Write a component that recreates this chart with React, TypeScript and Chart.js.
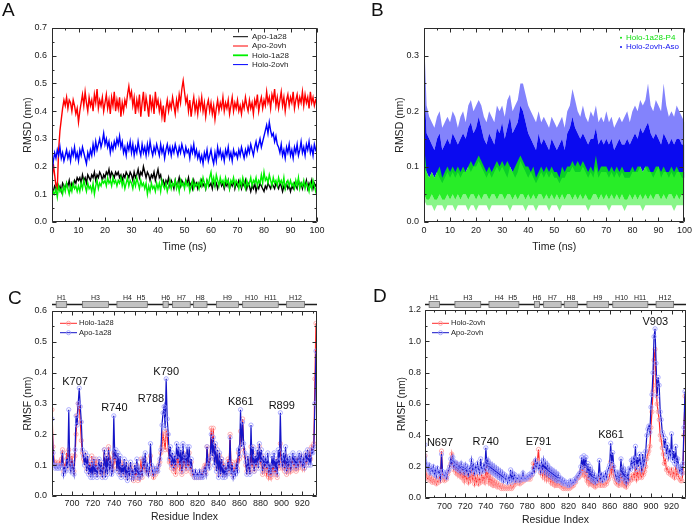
import React, { useEffect, useRef } from "react";
import { Chart, registerables } from "chart.js";
Chart.register(...registerables);

const FONT = "'Liberation Sans', Arial, Helvetica, sans-serif";

// ---------------- Panel A : RMSD of protein (every 0.5 ns) ----------------
const A_APO_1A28 = [
  0.12,0.11,0.13,0.12,0.14,0.12,0.13,0.11,0.14,0.13, 0.12,0.14,0.13,0.15,0.12,0.14,0.13,0.15,0.14,0.16,
  0.15,0.16,0.14,0.17,0.15,0.16,0.14,0.17,0.16,0.15, 0.17,0.16,0.18,0.15,0.17,0.16,0.18,0.17,0.15,0.17,
  0.16,0.18,0.17,0.19,0.16,0.18,0.17,0.16,0.18,0.17, 0.18,0.16,0.17,0.15,0.17,0.16,0.18,0.17,0.16,0.18,
  0.17,0.15,0.18,0.16,0.17,0.19,0.16,0.18,0.17,0.20, 0.18,0.16,0.18,0.17,0.15,0.17,0.16,0.18,0.15,0.17,
  0.19,0.16,0.17,0.14,0.15,0.13,0.15,0.14,0.16,0.13, 0.15,0.14,0.12,0.15,0.13,0.14,0.16,0.13,0.15,0.14,
  0.13,0.15,0.14,0.16,0.13,0.14,0.12,0.15,0.13,0.14, 0.12,0.14,0.13,0.15,0.13,0.14,0.12,0.15,0.14,0.13,
  0.14,0.12,0.15,0.13,0.14,0.12,0.14,0.15,0.13,0.14, 0.12,0.14,0.13,0.15,0.12,0.14,0.13,0.15,0.12,0.14,
  0.13,0.15,0.14,0.12,0.14,0.13,0.15,0.12,0.14,0.13, 0.11,0.13,0.12,0.14,0.11,0.13,0.12,0.14,0.13,0.12,
  0.11,0.13,0.12,0.14,0.13,0.12,0.14,0.13,0.12,0.14, 0.13,0.12,0.14,0.13,0.11,0.13,0.12,0.14,0.12,0.13,
  0.11,0.13,0.12,0.14,0.13,0.12,0.15,0.13,0.14,0.12, 0.14,0.13,0.15,0.12,0.14,0.13,0.15,0.12,0.14,0.13,
  0.14,
];
const A_APO_2OVH = [
  0.15,0.21,0.17,0.13,0.12,0.26,0.33,0.37,0.41,0.44, 0.42,0.45,0.41,0.44,0.43,0.40,0.44,0.42,0.39,0.41,
  0.36,0.40,0.43,0.46,0.42,0.47,0.43,0.40,0.45,0.42, 0.44,0.40,0.46,0.43,0.48,0.41,0.44,0.42,0.45,0.40,
  0.43,0.46,0.41,0.44,0.39,0.45,0.42,0.47,0.40,0.44, 0.41,0.45,0.38,0.43,0.40,0.44,0.42,0.46,0.49,0.45,
  0.47,0.42,0.45,0.39,0.44,0.41,0.46,0.38,0.43,0.47, 0.40,0.45,0.42,0.38,0.46,0.41,0.44,0.39,0.47,0.42,
  0.44,0.40,0.43,0.38,0.42,0.36,0.41,0.44,0.40,0.43, 0.41,0.45,0.42,0.39,0.44,0.41,0.46,0.43,0.48,0.51,
  0.47,0.43,0.45,0.40,0.44,0.38,0.42,0.45,0.40,0.43, 0.39,0.44,0.41,0.45,0.40,0.43,0.38,0.42,0.44,0.40,
  0.43,0.39,0.42,0.37,0.41,0.44,0.40,0.43,0.41,0.45, 0.40,0.43,0.41,0.44,0.39,0.42,0.45,0.40,0.43,0.41,
  0.44,0.40,0.42,0.39,0.43,0.41,0.45,0.42,0.40,0.44, 0.41,0.43,0.39,0.44,0.42,0.46,0.40,0.43,0.45,0.41,
  0.44,0.42,0.47,0.43,0.45,0.41,0.46,0.44,0.48,0.42, 0.45,0.41,0.44,0.47,0.42,0.45,0.40,0.44,0.46,0.42,
  0.45,0.43,0.47,0.41,0.44,0.46,0.42,0.45,0.43,0.47, 0.42,0.46,0.43,0.45,0.41,0.47,0.43,0.45,0.42,0.44,
  0.43,
];
const A_HOLO_1A28 = [
  0.09,0.11,0.10,0.12,0.09,0.13,0.11,0.12,0.10,0.13, 0.11,0.14,0.12,0.10,0.13,0.11,0.14,0.12,0.13,0.11,
  0.13,0.11,0.14,0.12,0.15,0.13,0.11,0.14,0.12,0.13, 0.11,0.14,0.10,0.13,0.15,0.12,0.14,0.13,0.15,0.14,
  0.15,0.13,0.16,0.14,0.15,0.13,0.16,0.14,0.15,0.13, 0.15,0.14,0.16,0.13,0.15,0.12,0.14,0.16,0.13,0.15,
  0.14,0.12,0.15,0.13,0.16,0.14,0.12,0.15,0.13,0.14, 0.12,0.14,0.10,0.13,0.11,0.14,0.12,0.13,0.11,0.14,
  0.12,0.14,0.11,0.15,0.13,0.12,0.14,0.11,0.13,0.15, 0.12,0.14,0.13,0.15,0.12,0.14,0.11,0.15,0.13,0.14,
  0.12,0.15,0.13,0.14,0.11,0.13,0.15,0.12,0.14,0.13, 0.14,0.12,0.15,0.13,0.16,0.14,0.12,0.15,0.13,0.16,
  0.18,0.14,0.16,0.13,0.17,0.15,0.13,0.16,0.14,0.15, 0.13,0.16,0.14,0.15,0.12,0.15,0.14,0.16,0.13,0.15,
  0.14,0.12,0.15,0.13,0.16,0.14,0.12,0.15,0.13,0.14, 0.16,0.13,0.15,0.14,0.16,0.13,0.15,0.14,0.17,0.14,
  0.18,0.15,0.16,0.14,0.17,0.15,0.13,0.16,0.14,0.15, 0.13,0.16,0.14,0.15,0.13,0.16,0.12,0.14,0.15,0.13,
  0.15,0.13,0.14,0.12,0.15,0.13,0.16,0.12,0.14,0.13, 0.15,0.12,0.14,0.13,0.11,0.14,0.12,0.15,0.13,0.11,
  0.13,
];
const A_HOLO_2OVH = [
  0.17,0.22,0.25,0.23,0.26,0.24,0.27,0.23,0.25,0.22, 0.24,0.26,0.23,0.25,0.22,0.26,0.24,0.27,0.23,0.25,
  0.22,0.26,0.24,0.27,0.25,0.23,0.21,0.25,0.23,0.26, 0.24,0.28,0.25,0.29,0.26,0.28,0.30,0.27,0.29,0.32,
  0.28,0.30,0.27,0.29,0.25,0.28,0.26,0.29,0.27,0.30, 0.28,0.31,0.27,0.29,0.25,0.27,0.24,0.28,0.26,0.29,
  0.25,0.28,0.24,0.27,0.25,0.29,0.26,0.24,0.28,0.25, 0.27,0.24,0.28,0.25,0.29,0.26,0.24,0.27,0.25,0.28,
  0.26,0.24,0.28,0.25,0.27,0.23,0.26,0.28,0.25,0.27, 0.24,0.27,0.25,0.28,0.26,0.24,0.27,0.25,0.28,0.26,
  0.24,0.27,0.25,0.26,0.23,0.27,0.25,0.28,0.24,0.26, 0.23,0.25,0.22,0.24,0.21,0.25,0.23,0.26,0.22,0.24,
  0.26,0.23,0.21,0.25,0.22,0.27,0.24,0.26,0.23,0.25, 0.22,0.26,0.24,0.27,0.23,0.25,0.22,0.26,0.24,0.25,
  0.23,0.26,0.24,0.27,0.25,0.23,0.26,0.24,0.27,0.25, 0.28,0.26,0.24,0.27,0.29,0.26,0.28,0.30,0.27,0.29,
  0.31,0.33,0.35,0.32,0.36,0.33,0.31,0.32,0.29,0.31, 0.28,0.27,0.25,0.28,0.24,0.26,0.23,0.27,0.25,0.28,
  0.24,0.26,0.23,0.27,0.25,0.28,0.24,0.26,0.29,0.25, 0.27,0.24,0.28,0.26,0.29,0.25,0.27,0.24,0.28,0.26,
  0.27,
];

// ---------------- Panel B : ligand RMSD clouds (envelopes, every 1 ns) ----------------
const B_BLUE_MAX = [
  0.34,0.21,0.19,0.18,0.17,0.19,0.20,0.17,0.18,0.19, 0.18,0.20,0.19,0.17,0.19,0.20,0.18,0.21,0.22,0.20,
  0.21,0.22,0.21,0.19,0.18,0.20,0.19,0.18,0.21,0.20, 0.21,0.19,0.22,0.23,0.20,0.21,0.22,0.25,0.25,0.23,
  0.21,0.20,0.19,0.18,0.20,0.18,0.19,0.18,0.17,0.19, 0.18,0.17,0.18,0.19,0.17,0.20,0.21,0.24,0.22,0.20,
  0.19,0.21,0.19,0.18,0.20,0.19,0.21,0.18,0.19,0.18, 0.20,0.18,0.19,0.17,0.18,0.19,0.18,0.19,0.20,0.18,
  0.20,0.21,0.20,0.22,0.21,0.22,0.25,0.21,0.20,0.22, 0.21,0.20,0.25,0.21,0.19,0.20,0.19,0.21,0.20,0.19,
  0.18,
];
const B_BLUE_TOP = [
  0.26,0.16,0.15,0.14,0.13,0.15,0.16,0.13,0.14,0.15, 0.14,0.16,0.15,0.14,0.15,0.16,0.15,0.17,0.18,0.16,
  0.17,0.19,0.17,0.15,0.14,0.16,0.15,0.14,0.17,0.16, 0.18,0.15,0.17,0.19,0.16,0.17,0.18,0.21,0.20,0.18,
  0.16,0.15,0.14,0.13,0.16,0.14,0.15,0.14,0.13,0.15, 0.14,0.13,0.14,0.15,0.13,0.16,0.17,0.19,0.17,0.16,
  0.15,0.16,0.15,0.14,0.15,0.15,0.17,0.14,0.15,0.14, 0.15,0.14,0.15,0.13,0.14,0.15,0.14,0.14,0.15,0.14,
  0.15,0.16,0.15,0.17,0.16,0.17,0.18,0.16,0.15,0.16, 0.15,0.14,0.16,0.15,0.14,0.15,0.14,0.15,0.15,0.14,
  0.14,
];
const B_BLUE_LOW = [
  0.10,0.09,0.08,0.09,0.08,0.09,0.08,0.07,0.08,0.09, 0.08,0.09,0.08,0.09,0.08,0.09,0.09,0.10,0.09,0.10,
  0.10,0.11,0.10,0.09,0.08,0.09,0.08,0.09,0.10,0.09, 0.10,0.09,0.08,0.10,0.09,0.08,0.09,0.11,0.10,0.09,
  0.08,0.09,0.08,0.07,0.08,0.09,0.08,0.09,0.08,0.09, 0.08,0.08,0.07,0.08,0.08,0.09,0.09,0.10,0.09,0.09,
  0.09,0.10,0.09,0.08,0.09,0.08,0.10,0.08,0.09,0.09, 0.09,0.08,0.09,0.08,0.09,0.08,0.09,0.08,0.08,0.08,
  0.09,0.09,0.09,0.10,0.09,0.10,0.09,0.09,0.08,0.09, 0.10,0.08,0.09,0.09,0.08,0.09,0.08,0.09,0.09,0.08,
  0.08,
];
const B_GREEN_TOP = [
  0.14,0.09,0.08,0.09,0.08,0.09,0.10,0.08,0.09,0.10, 0.09,0.10,0.09,0.10,0.09,0.10,0.09,0.10,0.11,0.10,
  0.11,0.12,0.11,0.10,0.09,0.10,0.09,0.10,0.11,0.10, 0.11,0.10,0.11,0.10,0.09,0.10,0.11,0.12,0.11,0.10,
  0.10,0.09,0.10,0.08,0.09,0.10,0.09,0.10,0.09,0.10, 0.09,0.09,0.08,0.10,0.09,0.10,0.10,0.11,0.10,0.11,
  0.10,0.11,0.10,0.09,0.10,0.09,0.12,0.09,0.10,0.10, 0.10,0.09,0.10,0.09,0.10,0.09,0.10,0.09,0.09,0.09,
  0.10,0.09,0.10,0.10,0.09,0.10,0.10,0.09,0.09,0.10, 0.10,0.09,0.10,0.09,0.09,0.10,0.09,0.10,0.09,0.09,
  0.09,
];
const B_GREEN_LOW = [
  0.05,0.04,0.04,0.05,0.04,0.04,0.05,0.04,0.04,0.05, 0.04,0.05,0.04,0.05,0.04,0.05,0.05,0.04,0.05,0.05,
  0.04,0.05,0.04,0.05,0.05,0.04,0.05,0.05,0.04,0.05, 0.05,0.04,0.05,0.05,0.04,0.05,0.04,0.05,0.05,0.04,
  0.05,0.04,0.05,0.04,0.05,0.05,0.04,0.05,0.04,0.05, 0.04,0.05,0.04,0.05,0.04,0.05,0.05,0.04,0.05,0.04,
  0.05,0.04,0.05,0.04,0.04,0.05,0.05,0.04,0.05,0.04, 0.05,0.04,0.05,0.04,0.05,0.04,0.05,0.04,0.04,0.05,
  0.04,0.05,0.04,0.05,0.04,0.05,0.04,0.05,0.04,0.05, 0.05,0.04,0.05,0.04,0.05,0.05,0.04,0.05,0.04,0.05,
  0.04,
];
const B_GREEN_MIN = [
  0.04,0.03,0.03,0.03,0.02,0.03,0.03,0.03,0.02,0.03, 0.03,0.03,0.02,0.03,0.03,0.03,0.03,0.02,0.03,0.03,
  0.02,0.03,0.03,0.03,0.03,0.02,0.03,0.03,0.03,0.03, 0.03,0.03,0.03,0.02,0.03,0.03,0.03,0.03,0.03,0.02,
  0.03,0.03,0.03,0.02,0.03,0.03,0.03,0.03,0.02,0.03, 0.03,0.03,0.02,0.03,0.03,0.03,0.03,0.03,0.03,0.03,
  0.03,0.03,0.03,0.02,0.03,0.03,0.03,0.03,0.03,0.03, 0.03,0.02,0.03,0.03,0.03,0.03,0.03,0.02,0.03,0.03,
  0.03,0.03,0.03,0.03,0.02,0.03,0.03,0.03,0.03,0.03, 0.03,0.03,0.03,0.03,0.03,0.03,0.02,0.03,0.03,0.03,
  0.03,
];

// ---------------- Panel C / D : RMSF per residue (from residue 681) ----------------
const FIRST_RESIDUE = 681;
const C_HOLO_1A28 = [
  0.28,0.16,0.11,0.10,0.11,0.10,0.10,0.11,0.10,0.12, 0.15,0.08,0.10,0.09,0.14,0.10,0.15,0.12,0.09,0.13,
  0.10,0.08,0.13,0.20,0.26,0.30,0.29,0.24,0.18,0.14, 0.12,0.11,0.13,0.09,0.12,0.08,0.11,0.07,0.13,0.08,
  0.11,0.08,0.12,0.07,0.10,0.11,0.08,0.10,0.07,0.10, 0.15,0.07,0.13,0.09,0.16,0.10,0.12,0.08,0.09,0.14,
  0.11,0.13,0.09,0.12,0.08,0.11,0.07,0.10,0.08,0.11, 0.07,0.10,0.06,0.09,0.07,0.10,0.06,0.08,0.05,0.09,
  0.06,0.10,0.05,0.08,0.06,0.12,0.06,0.11,0.09,0.12, 0.08,0.09,0.07,0.08,0.13,0.09,0.07,0.06,0.08,0.07,
  0.08,0.09,0.10,0.11,0.14,0.16,0.20,0.18,0.15,0.21, 0.20,0.15,0.11,0.13,0.09,0.12,0.08,0.11,0.07,0.13,
  0.10,0.13,0.08,0.12,0.07,0.14,0.10,0.12,0.08,0.13, 0.09,0.14,0.08,0.11,0.07,0.08,0.06,0.07,0.06,0.07,
  0.06,0.07,0.06,0.08,0.07,0.09,0.10,0.08,0.16,0.12, 0.10,0.13,0.22,0.15,0.22,0.12,0.16,0.09,0.14,0.07,
  0.13,0.08,0.12,0.07,0.10,0.07,0.09,0.08,0.12,0.09, 0.20,0.08,0.11,0.07,0.09,0.08,0.11,0.09,0.14,0.12,
  0.21,0.18,0.25,0.15,0.13,0.10,0.08,0.12,0.09,0.08, 0.16,0.09,0.14,0.08,0.12,0.09,0.13,0.10,0.16,0.10,
  0.13,0.07,0.11,0.08,0.10,0.07,0.09,0.06,0.08,0.06, 0.10,0.07,0.11,0.07,0.10,0.06,0.12,0.09,0.17,0.10,
  0.09,0.11,0.08,0.13,0.07,0.10,0.08,0.11,0.08,0.10, 0.12,0.09,0.12,0.08,0.11,0.09,0.12,0.10,0.13,0.09,
  0.11,0.09,0.13,0.10,0.14,0.11,0.15,0.12,0.16,0.15, 0.17,0.38,0.56,
];
const C_APO_1A28 = [
  0.25,0.14,0.10,0.09,0.10,0.09,0.09,0.10,0.09,0.10, 0.14,0.07,0.09,0.08,0.12,0.09,0.28,0.10,0.08,0.11,
  0.09,0.07,0.15,0.26,0.23,0.30,0.35,0.29,0.24,0.15, 0.13,0.10,0.14,0.08,0.13,0.07,0.10,0.06,0.11,0.06,
  0.12,0.07,0.10,0.06,0.09,0.12,0.07,0.11,0.06,0.09, 0.15,0.06,0.13,0.07,0.15,0.09,0.11,0.07,0.08,0.26,
  0.12,0.15,0.08,0.14,0.07,0.13,0.06,0.10,0.07,0.12, 0.06,0.11,0.05,0.09,0.07,0.11,0.06,0.08,0.06,0.10,
  0.07,0.12,0.06,0.09,0.06,0.08,0.07,0.12,0.10,0.14, 0.08,0.10,0.07,0.09,0.17,0.10,0.08,0.07,0.09,0.08,
  0.09,0.08,0.10,0.12,0.15,0.23,0.27,0.29,0.22,0.38, 0.25,0.20,0.12,0.16,0.10,0.14,0.09,0.13,0.10,0.17,
  0.12,0.16,0.10,0.15,0.08,0.17,0.11,0.13,0.09,0.16, 0.10,0.16,0.09,0.12,0.08,0.07,0.06,0.08,0.06,0.07,
  0.06,0.08,0.06,0.07,0.06,0.08,0.09,0.07,0.16,0.10, 0.09,0.12,0.20,0.13,0.19,0.10,0.17,0.08,0.15,0.06,
  0.14,0.07,0.12,0.06,0.10,0.06,0.09,0.07,0.11,0.08, 0.19,0.07,0.10,0.06,0.08,0.07,0.10,0.08,0.15,0.13,
  0.28,0.16,0.24,0.17,0.14,0.11,0.07,0.13,0.09,0.07, 0.23,0.10,0.16,0.08,0.13,0.10,0.15,0.09,0.17,0.11,
  0.15,0.08,0.13,0.10,0.12,0.09,0.14,0.08,0.10,0.07, 0.13,0.09,0.14,0.08,0.12,0.07,0.15,0.10,0.27,0.12,
  0.10,0.14,0.09,0.16,0.08,0.12,0.10,0.13,0.09,0.11, 0.14,0.10,0.13,0.09,0.12,0.10,0.14,0.11,0.13,0.10,
  0.12,0.09,0.14,0.11,0.15,0.10,0.13,0.10,0.15,0.14, 0.16,0.30,0.47,
];
const D_HOLO_2OVH = [
  0.27,0.15,0.13,0.12,0.14,0.11,0.13,0.10,0.12,0.10, 0.12,0.09,0.11,0.10,0.13,0.11,0.30,0.13,0.12,0.11,
  0.13,0.12,0.15,0.17,0.20,0.22,0.28,0.22,0.18,0.20, 0.16,0.21,0.15,0.19,0.14,0.18,0.13,0.17,0.11,0.16,
  0.12,0.15,0.10,0.14,0.11,0.17,0.12,0.15,0.09,0.13, 0.10,0.14,0.09,0.12,0.10,0.15,0.11,0.13,0.10,0.20,
  0.13,0.16,0.10,0.14,0.09,0.12,0.08,0.11,0.08,0.10, 0.07,0.09,0.07,0.08,0.06,0.08,0.06,0.07,0.06,0.07,
  0.06,0.07,0.06,0.08,0.06,0.07,0.08,0.10,0.09,0.11, 0.10,0.12,0.09,0.11,0.10,0.13,0.11,0.12,0.12,0.13,
  0.12,0.13,0.12,0.14,0.15,0.22,0.18,0.23,0.20,0.24, 0.31,0.21,0.16,0.19,0.14,0.20,0.13,0.18,0.12,0.17,
  0.12,0.15,0.10,0.14,0.09,0.12,0.08,0.11,0.08,0.10, 0.08,0.09,0.07,0.08,0.06,0.07,0.06,0.07,0.06,0.07,
  0.06,0.07,0.07,0.08,0.08,0.10,0.10,0.12,0.13,0.13, 0.14,0.16,0.18,0.15,0.20,0.14,0.17,0.11,0.15,0.09,
  0.13,0.09,0.12,0.08,0.11,0.07,0.09,0.08,0.10,0.13, 0.08,0.10,0.08,0.09,0.08,0.10,0.09,0.11,0.12,0.14,
  0.23,0.16,0.20,0.14,0.12,0.10,0.09,0.11,0.08,0.10, 0.15,0.09,0.13,0.08,0.11,0.07,0.10,0.09,0.12,0.11,
  0.14,0.12,0.15,0.13,0.20,0.12,0.16,0.13,0.18,0.14, 0.13,0.18,0.15,0.17,0.20,0.25,0.28,0.30,0.33,0.45,
  0.55,0.68,0.88,0.95,0.72,0.60,0.55,0.50,0.40,0.37, 0.32,0.28,0.22,0.24,0.18,0.19,0.16,0.17,0.15,0.18,
  0.14,0.16,0.13,0.19,0.15,0.17,0.13,0.12,0.11,0.11, 0.16,0.40,0.65,
];
const D_APO_2OVH = [
  0.34,0.22,0.20,0.18,0.21,0.16,0.19,0.17,0.20,0.15, 0.18,0.14,0.19,0.16,0.17,0.13,0.28,0.17,0.15,0.14,
  0.16,0.13,0.17,0.18,0.20,0.25,0.22,0.26,0.20,0.23, 0.19,0.22,0.18,0.21,0.17,0.22,0.18,0.20,0.16,0.21,
  0.17,0.20,0.15,0.19,0.17,0.24,0.18,0.21,0.16,0.20, 0.17,0.22,0.18,0.16,0.25,0.19,0.17,0.21,0.18,0.32,
  0.20,0.24,0.18,0.22,0.17,0.21,0.16,0.20,0.15,0.19, 0.14,0.18,0.13,0.17,0.12,0.16,0.11,0.15,0.12,0.14,
  0.10,0.13,0.11,0.18,0.10,0.16,0.12,0.15,0.11,0.13, 0.12,0.14,0.11,0.13,0.12,0.16,0.12,0.13,0.12,0.14,
  0.13,0.15,0.14,0.16,0.15,0.19,0.17,0.24,0.20,0.22, 0.19,0.21,0.17,0.23,0.18,0.24,0.17,0.22,0.16,0.21,
  0.15,0.19,0.14,0.18,0.13,0.17,0.12,0.16,0.11,0.15, 0.11,0.13,0.10,0.12,0.09,0.11,0.09,0.10,0.08,0.10,
  0.08,0.11,0.09,0.10,0.10,0.12,0.11,0.13,0.14,0.15, 0.16,0.20,0.26,0.18,0.27,0.19,0.26,0.16,0.22,0.13,
  0.20,0.12,0.17,0.11,0.15,0.10,0.13,0.11,0.14,0.24, 0.12,0.15,0.11,0.14,0.12,0.16,0.13,0.17,0.19,0.21,
  0.35,0.22,0.29,0.20,0.17,0.14,0.12,0.16,0.11,0.15, 0.25,0.13,0.19,0.12,0.17,0.10,0.15,0.12,0.19,0.18,
  0.24,0.20,0.25,0.21,0.33,0.18,0.26,0.20,0.28,0.22, 0.18,0.28,0.21,0.24,0.30,0.40,0.44,0.46,0.42,0.58,
  0.66,0.80,1.03,1.08,0.86,0.65,0.77,0.72,0.55,0.50, 0.42,0.40,0.32,0.38,0.28,0.34,0.26,0.30,0.27,0.41,
  0.24,0.30,0.22,0.33,0.21,0.25,0.20,0.17,0.20,0.16, 0.22,0.45,0.68,
];

// ---------------- Tick values / secondary structure / labels ----------------
const TIME_TICKS = [0, 10, 20, 30, 40, 50, 60, 70, 80, 90, 100];
const A_Y_TICKS = [0, 0.1, 0.2, 0.3, 0.4, 0.5, 0.6, 0.7];
const B_Y_TICKS = [0, 0.1, 0.2, 0.3];
const RES_TICKS = [700, 720, 740, 760, 780, 800, 820, 840, 860, 880, 900, 920];
const C_Y_TICKS = [0, 0.1, 0.2, 0.3, 0.4, 0.5, 0.6];
const D_Y_TICKS = [0, 0.2, 0.4, 0.6, 0.8, 1.0, 1.2];

const HELIX_START = [685, 710, 743, 787, 796, 816, 838, 863, 905];
const HELIX_END = [695, 735, 772, 792, 813, 829, 859, 897, 922];
const HELIX_NAMES = ["H1", "H3", "H4", "H5", "H6", "H7", "H8", "H9", "H10", "H11", "H12"];
const HELIX_NAME_AT = [690, 722.5, 753, 766, 789.5, 804.5, 822.5, 848.5, 871.5, 889.5, 913.5];

const C_PEAK_TEXT = ["K707", "R740", "R788", "K790", "K861", "R899"];
const C_PEAK_X = [703, 740.6, 775.5, 790, 861.3, 900.4];
const C_PEAK_Y = [0.371, 0.284, 0.314, 0.401, 0.306, 0.292];
const D_PEAK_TEXT = ["N697", "R740", "E791", "K861", "V903"];
const D_PEAK_X = [695.6, 739.9, 791, 861.3, 904.3];
const D_PEAK_Y = [0.351, 0.355, 0.355, 0.40, 1.123];

// ---------------- helpers ----------------
const byTime = (arr: number[], step: number) => arr.map((y, i) => ({ x: i * step, y }));
const byResidue = (arr: number[]) => arr.map((y, i) => ({ x: FIRST_RESIDUE + i, y }));

function minorValues(scale: any, step: number) {
  const out: number[] = [];
  const n0 = Math.ceil(scale.min / step - 1e-9);
  const n1 = Math.floor(scale.max / step + 1e-9);
  for (let n = n0; n <= n1; n++) out.push(n * step);
  return out;
}

function framePlugin(xMinor: number, yMinor: number) {
  return {
    id: "frame",
    afterDraw(chart: any) {
      const { ctx, chartArea: a, scales } = chart;
      const xs = scales.x, ys = scales.y;
      const L = Math.round(a.left) + 0.5, R = Math.round(a.right) - 0.5;
      const T = Math.round(a.top) + 0.5, B = Math.round(a.bottom) - 0.5;
      ctx.save();
      ctx.strokeStyle = "#2b2b2b";
      ctx.lineWidth = 1;
      ctx.beginPath();
      ctx.rect(L, T, R - L, B - T);
      const tx = (v: number, len: number) => {
        const p = Math.round(xs.getPixelForValue(v)) + 0.5;
        ctx.moveTo(p, B); ctx.lineTo(p, B - len);
        ctx.moveTo(p, T); ctx.lineTo(p, T + len);
      };
      const ty = (v: number, len: number) => {
        const p = Math.round(ys.getPixelForValue(v)) + 0.5;
        ctx.moveTo(L, p); ctx.lineTo(L + len, p);
        ctx.moveTo(R, p); ctx.lineTo(R - len, p);
      };
      minorValues(xs, xMinor).forEach((v) => tx(v, 2));
      minorValues(ys, yMinor).forEach((v) => ty(v, 2));
      xs.ticks.forEach((t: any) => tx(t.value, 4));
      ys.ticks.forEach((t: any) => ty(t.value, 4));
      ctx.stroke();
      ctx.restore();
    },
  };
}

type LegendItem = { text: string; color: string; kind: "line" | "dot" | "marker"; textColor?: string; marker?: string; width?: number };
function legendPlugin(items: LegendItem[], x: number, y: number, rowH: number, len: number, gap: number, size: number) {
  return {
    id: "customLegend",
    afterDraw(chart: any) {
      const ctx = chart.ctx;
      ctx.save();
      ctx.font = `${size}px ${FONT}`;
      ctx.textBaseline = "middle";
      ctx.textAlign = "left";
      items.forEach((it, i) => {
        const yy = y + i * rowH;
        if (it.kind === "dot") {
          ctx.fillStyle = it.color;
          ctx.beginPath();
          ctx.arc(x + len / 2, yy, 1, 0, Math.PI * 2);
          ctx.fill();
        } else {
          ctx.strokeStyle = it.color;
          ctx.lineWidth = it.width || 1;
          ctx.beginPath();
          ctx.moveTo(x, yy); ctx.lineTo(x + len, yy);
          ctx.stroke();
          if (it.kind === "marker") {
            ctx.strokeStyle = it.marker || it.color;
            ctx.lineWidth = 0.8;
            ctx.beginPath();
            ctx.arc(x + len / 2, yy, 2.1, 0, Math.PI * 2);
            ctx.stroke();
          }
        }
        ctx.fillStyle = it.textColor || "#222";
        ctx.fillText(it.text, x + len + gap, yy);
      });
      ctx.restore();
    },
  };
}

function helixPlugin(lineOffset: number, labelOffset: number) {
  return {
    id: "helix",
    afterDraw(chart: any) {
      const { ctx, chartArea: a, scales } = chart;
      const xs = scales.x;
      const yl = Math.round(a.top - lineOffset) + 0.5;
      ctx.save();
      ctx.strokeStyle = "#1e1e1e";
      ctx.lineWidth = 1.6;
      ctx.beginPath();
      ctx.moveTo(a.left, yl); ctx.lineTo(a.right, yl);
      ctx.stroke();
      ctx.lineWidth = 0.8;
      ctx.strokeStyle = "#6a6a6a";
      ctx.fillStyle = "#c3c3c3";
      HELIX_START.forEach((s, i) => {
        const x0 = xs.getPixelForValue(s), x1 = xs.getPixelForValue(HELIX_END[i]);
        ctx.fillRect(x0, yl - 3, x1 - x0, 6);
        ctx.strokeRect(x0, yl - 3, x1 - x0, 6);
      });
      ctx.fillStyle = "#222";
      ctx.font = `7px ${FONT}`;
      ctx.textAlign = "center";
      ctx.textBaseline = "middle";
      HELIX_NAMES.forEach((n, i) => ctx.fillText(n, xs.getPixelForValue(HELIX_NAME_AT[i]), a.top - labelOffset));
      ctx.restore();
    },
  };
}

function peakPlugin(texts: string[], xs: number[], ys: number[], size: number) {
  return {
    id: "peaks",
    afterDraw(chart: any) {
      const { ctx, scales } = chart;
      ctx.save();
      ctx.font = `${size}px ${FONT}`;
      ctx.fillStyle = "#111";
      ctx.textAlign = "center";
      ctx.textBaseline = "middle";
      texts.forEach((t, i) => ctx.fillText(t, scales.x.getPixelForValue(xs[i]), scales.y.getPixelForValue(ys[i])));
      ctx.restore();
    },
  };
}

type AxisSpec = {
  xMin: number; xMax: number; xTicks: number[]; yMin: number; yMax: number; yTicks: number[]; yDigits: number;
  xTitle: string; yTitle: string; yWidth: number; xHeight: number; xTickPad: number; yTickPad: number;
  xTitlePad: number; yTitlePad: number;
};
function makeScales(p: AxisSpec) {
  const tickFont = { family: FONT, size: 9 };
  const titleFont = { family: FONT, size: 10.5, lineHeight: 1.2 };
  return {
    x: {
      type: "linear",
      min: p.xMin, max: p.xMax,
      afterBuildTicks: (s: any) => { s.ticks = p.xTicks.map((v) => ({ value: v })); },
      afterFit: (s: any) => { s.height = p.xHeight; },
      grid: { display: false, drawTicks: false },
      border: { display: false },
      ticks: { padding: p.xTickPad, font: tickFont, color: "#222", maxRotation: 0, autoSkip: false, callback: (v: any) => String(v) },
      title: { display: true, text: p.xTitle, font: titleFont, color: "#222", padding: { top: 0, bottom: p.xTitlePad } },
    },
    y: {
      type: "linear",
      min: p.yMin, max: p.yMax,
      afterBuildTicks: (s: any) => { s.ticks = p.yTicks.map((v) => ({ value: v })); },
      afterFit: (s: any) => { s.width = p.yWidth; },
      grid: { display: false, drawTicks: false },
      border: { display: false },
      ticks: { padding: p.yTickPad, font: tickFont, color: "#222", autoSkip: false, callback: (v: any) => Number(v).toFixed(p.yDigits) },
      title: { display: true, text: p.yTitle, font: titleFont, color: "#222", padding: { top: p.yTitlePad, bottom: 0 } },
    },
  };
}

const baseOptions = (padding: any, scales: any) => ({
  responsive: false,
  animation: false,
  devicePixelRatio: 1,
  events: [],
  layout: { padding },
  plugins: { legend: { display: false }, tooltip: { enabled: false }, filler: { drawTime: "beforeDatasetDraw" } },
  scales,
});

// ---------------- chart configs ----------------
function configA() {
  const series = [
    { label: "Apo-1a28", data: A_APO_1A28, color: "#000000" },
    { label: "Apo-2ovh", data: A_APO_2OVH, color: "#ff0000" },
    { label: "Holo-1a28", data: A_HOLO_1A28, color: "#00f000" },
    { label: "Holo-2ovh", data: A_HOLO_2OVH, color: "#0000ff" },
  ];
  return {
    type: "line",
    data: {
      datasets: series.map((s, i) => ({
        label: s.label, data: byTime(s.data, 0.5), borderColor: s.color, borderWidth: 1.4,
        pointRadius: 0, fill: false, tension: 0, order: 4 - i,
      })),
    },
    options: baseOptions({ left: 0, top: 28, right: 28, bottom: 0 }, makeScales({
      xMin: 0, xMax: 100, xTicks: TIME_TICKS, yMin: 0, yMax: 0.7, yTicks: A_Y_TICKS, yDigits: 1,
      xTitle: "Time (ns)", yTitle: "RMSD (nm)", yWidth: 52, xHeight: 40, xTickPad: 3, yTickPad: 5,
      xTitlePad: 9, yTitlePad: 21.7,
    })),
    plugins: [
      framePlugin(5, 0.05),
      legendPlugin(series.map((s) => ({ text: s.label, color: s.color, kind: "line" as const, width: s.label === "Holo-1a28" ? 1.8 : 1 })), 233, 36.7, 9.3, 15, 4, 8),
    ],
  };
}

function configB() {
  const blueSolid = "rgb(10,10,240)";
  const blueFringe = "rgba(30,30,250,0.55)";
  const greenSolid = "rgba(10,235,10,0.88)";
  const greenFringe = "rgba(20,235,20,0.5)";
  const band = (data: number[], bg: string, fill: any, order: number) => ({
    data: byTime(data, 1), borderColor: "rgba(0,0,0,0)", borderWidth: 1, backgroundColor: bg,
    pointRadius: 0, fill, tension: 0, order,
  });
  return {
    type: "line",
    data: {
      datasets: [
        { ...band(B_BLUE_MAX, blueFringe, "+1", 3), label: "Holo-2ovh-Aso" },
        band(B_BLUE_TOP, blueSolid, "+1", 3),
        band(B_BLUE_LOW, blueSolid, false, 3),
        { ...band(B_GREEN_TOP, greenSolid, "+1", 1), label: "Holo-1a28-P4" },
        band(B_GREEN_LOW, greenFringe, "+1", 1),
        band(B_GREEN_MIN, greenFringe, false, 1),
      ],
    },
    options: baseOptions({ left: 0, top: 28, right: 7, bottom: 0 }, makeScales({
      xMin: 0, xMax: 100, xTicks: TIME_TICKS, yMin: 0, yMax: 0.35, yTicks: B_Y_TICKS, yDigits: 1,
      xTitle: "Time (ns)", yTitle: "RMSD (nm)", yWidth: 79, xHeight: 40, xTickPad: 3, yTickPad: 5,
      xTitlePad: 9, yTitlePad: 48.7,
    })),
    plugins: [
      framePlugin(5, 0.05),
      legendPlugin([
        { text: "Holo-1a28-P4", color: "#10e010", kind: "dot", textColor: "#10e010" },
        { text: "Holo-2ovh-Aso", color: "#1010f0", kind: "dot", textColor: "#1010f0" },
      ], 274, 37.7, 9.3, 4, 3, 8),
    ],
  };
}

function rmsfConfig(holo: number[], apo: number[], holoLabel: string, apoLabel: string, panel: "C" | "D") {
  const red = "#ff2a2a", redMarker = "#ff9c9c";
  const blue = "#1414c8", blueMarker = "#9a9aff";
  const ds = (label: string, data: number[], color: string, marker: string, order: number) => ({
    label, data: byResidue(data), borderColor: color, borderWidth: 1.2, tension: 0, fill: false,
    pointRadius: 2.1, pointStyle: "circle", pointBorderWidth: 0.8, pointBorderColor: marker,
    pointBackgroundColor: "rgba(255,255,255,0)", order,
  });
  const isC = panel === "C";
  return {
    type: "line",
    data: { datasets: [ds(holoLabel, holo, red, redMarker, 2), ds(apoLabel, apo, blue, blueMarker, 1)] },
    options: baseOptions(
      isC ? { left: 0, top: 49, right: 28, bottom: 0 } : { left: 0, top: 48, right: 9, bottom: 0 },
      makeScales({
        xMin: 681, xMax: 934, xTicks: RES_TICKS, yMin: 0, yMax: isC ? 0.6 : 1.2, yTicks: isC ? C_Y_TICKS : D_Y_TICKS,
        yDigits: 1, xTitle: "Residue Index", yTitle: "RMSF (nm)", yWidth: isC ? 52 : 80, xHeight: isC ? 29 : 27,
        xTickPad: isC ? 2 : 3, yTickPad: isC ? 5 : 4, xTitlePad: isC ? 1.4 : -1, yTitlePad: isC ? 21.7 : 50.4,
      })
    ),
    plugins: [
      framePlugin(10, isC ? 0.05 : 0.1),
      helixPlugin(isC ? 6.7 : 5.7, isC ? 12.7 : 11.7),
      isC ? peakPlugin(C_PEAK_TEXT, C_PEAK_X, C_PEAK_Y, 11) : peakPlugin(D_PEAK_TEXT, D_PEAK_X, D_PEAK_Y, 11),
      legendPlugin([
        { text: holoLabel, color: red, kind: "marker", marker: redMarker },
        { text: apoLabel, color: blue, kind: "marker", marker: blueMarker },
      ], isC ? 60 : 87, 61.3, 9.4, 17, 2, 7.5),
    ],
  };
}

function ChartBox(props: { left: number; top: number; width: number; height: number; make: () => any }) {
  const ref = useRef<HTMLCanvasElement | null>(null);
  useEffect(() => {
    if (!ref.current) return;
    const chart = new Chart(ref.current, props.make());
    return () => chart.destroy();
  }, []);
  return (
    <canvas
      ref={ref}
      width={props.width}
      height={props.height}
      style={{ position: "absolute", left: props.left, top: props.top, width: props.width, height: props.height }}
    />
  );
}

const letterStyle = (left: number, top: number): React.CSSProperties => ({
  position: "absolute", left, top, fontSize: 19, lineHeight: "19px", fontFamily: FONT, color: "#111",
});

export default function App() {
  return (
    <div style={{ position: "absolute", left: 0, top: 0, width: 695, height: 525, background: "#fff", overflow: "hidden" }}>
      <ChartBox left={0} top={0} width={345} height={262} make={configA} />
      <ChartBox left={345} top={0} width={350} height={262} make={configB} />
      <ChartBox left={0} top={262} width={345} height={263} make={() => rmsfConfig(C_HOLO_1A28, C_APO_1A28, "Holo-1a28", "Apo-1a28", "C")} />
      <ChartBox left={345} top={262} width={350} height={263} make={() => rmsfConfig(D_HOLO_2OVH, D_APO_2OVH, "Holo-2ovh", "Apo-2ovh", "D")} />
      <div style={letterStyle(2, 0)}>A</div>
      <div style={letterStyle(371, 0)}>B</div>
      <div style={letterStyle(8, 288)}>C</div>
      <div style={letterStyle(373, 286)}>D</div>
    </div>
  );
}
